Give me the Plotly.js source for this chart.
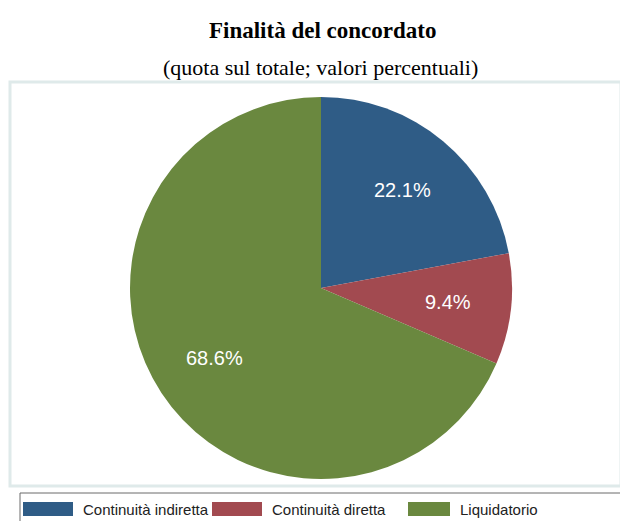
<!DOCTYPE html>
<html>
<head>
<meta charset="utf-8">
<script src="https://cdn.plot.ly/plotly-3.0.1.min.js"></script>
<style>html,body{margin:0;padding:0;background:#fff;}#chart{width:620px;height:521px;}</style>
</head>
<body>
<div id="chart"></div>
<script>
const categories = ["Continuità indiretta", "Continuità diretta", "Liquidatorio"];
const shares = [22.1, 9.4, 68.6];
const colors = ["#2f5c86", "#a24a50", "#6a883f"];
const titleText = "Finalità del concordato";
const subtitleText = "(quota sul totale; valori percentuali)";

const W = 620, H = 521;
const px = x => x / W;
const py = y => 1 - y / H;

// pie geometry (pixels)
const cx = 321, cy = 288, R = 191;

const trace = {
  type: "pie",
  labels: categories,
  values: shares,
  sort: false,
  direction: "clockwise",
  rotation: 0,
  marker: { colors: colors, line: { width: 0 } },
  textinfo: "none",
  textposition: "none",
  domain: { x: [px(cx - R), px(cx + R)], y: [py(cy + R), py(cy - R)] },
  hoverinfo: "none",
  showlegend: false
};

const shapes = [
  { type: "rect", xref: "paper", yref: "paper", x0: px(10), x1: px(621), y0: py(486), y1: py(82),
    line: { color: "#dfeaea", width: 3 }, fillcolor: "#ffffff", layer: "below" },
  { type: "rect", xref: "paper", yref: "paper", x0: px(20), x1: px(625), y0: py(525), y1: py(493),
    line: { color: "#6a6a6a", width: 1 }, fillcolor: "#ffffff", layer: "below" }
];
const annotations = [
  { text: "<b>" + titleText + "</b>", xref: "paper", yref: "paper", x: px(322), y: py(31),
    xanchor: "center", yanchor: "middle", showarrow: false,
    font: { family: "Liberation Serif, Times New Roman, serif", size: 23, color: "#000" } },
  { text: subtitleText, xref: "paper", yref: "paper", x: px(320), y: py(68),
    xanchor: "center", yanchor: "middle", showarrow: false,
    font: { family: "Liberation Serif, Times New Roman, serif", size: 22, color: "#000" } }
];

// slice labels placed along each slice's mid-angle
const total = shares.reduce((a, b) => a + b, 0);
let cum = 0;
shares.forEach(v => {
  const mid = (cum + v / 2) / total * 2 * Math.PI;
  cum += v;
  const lx = cx + 0.67 * R * Math.sin(mid);
  const ly = cy - 0.67 * R * Math.cos(mid);
  annotations.push({ text: v.toFixed(1) + "%", xref: "paper", yref: "paper",
    x: px(lx), y: py(ly), xanchor: "center", yanchor: "middle", showarrow: false,
    font: { family: "Liberation Sans, Arial, sans-serif", size: 20, color: "#ffffff" } });
});

const swatchX = [23, 212, 408];
const swatchW = [50, 50, 42];
categories.forEach((c, i) => {
  shapes.push({ type: "rect", xref: "paper", yref: "paper",
    x0: px(swatchX[i]), x1: px(swatchX[i] + swatchW[i]), y0: py(516), y1: py(502),
    line: { width: 0 }, fillcolor: colors[i] });
  annotations.push({ text: c, xref: "paper", yref: "paper",
    x: px(swatchX[i] + swatchW[i] + 8), y: py(509), xanchor: "left", yanchor: "middle",
    showarrow: false, font: { family: "Liberation Sans, Arial, sans-serif", size: 15, color: "#222" } });
});

const layout = {
  width: W, height: H,
  margin: { l: 0, r: 0, t: 0, b: 0 },
  paper_bgcolor: "#ffffff",
  showlegend: false,
  shapes: shapes,
  annotations: annotations
};

Plotly.newPlot("chart", [trace], layout, { displayModeBar: false, staticPlot: true });
</script>
</body>
</html>
